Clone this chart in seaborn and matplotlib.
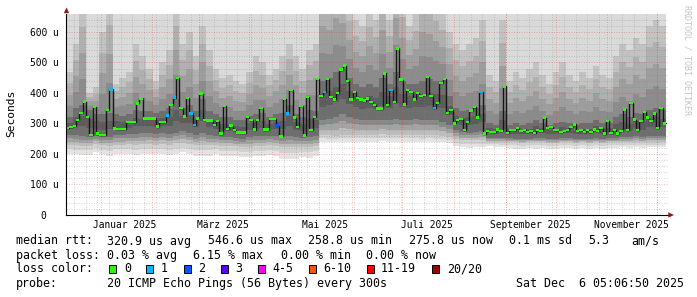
import numpy as np
import pandas as pd
import matplotlib
matplotlib.use("Agg")
import matplotlib.pyplot as plt
import seaborn as sns
from matplotlib.patches import Rectangle, Polygon

# ---------------- data ----------------
start = pd.Timestamp("2024-12-11 05:07")

# median rtt (microseconds), 2-day bins (180 bins)
median_us = [
    285, 288, 292, 312, 335, 372, 322, 262, 355, 267,
    262, 262, 344, 412, 284, 282, 282, 282, 305, 305,
    305, 366, 382, 317, 317, 317, 317, 290, 305, 305,
    326, 360, 385, 450, 350, 323, 383, 333, 295, 317,
    398, 312, 310, 310, 295, 308, 267, 357, 282, 293,
    278, 270, 270, 270, 322, 311, 280, 311, 351, 280,
    280, 315, 315, 293, 258, 381, 333, 409, 319, 289,
    357, 261, 387, 278, 322, 446, 390, 403, 446, 387,
    379, 400, 477, 490, 440, 379, 403, 384, 379, 375,
    382, 371, 360, 349, 349, 464, 360, 409, 371, 546,
    444, 363, 409, 404, 379, 400, 390, 393, 453, 390,
    350, 368, 433, 445, 335, 345, 300, 311, 315, 278,
    305, 342, 355, 320, 404, 267, 276, 273, 273, 280,
    276, 422, 269, 278, 279, 286, 275, 278, 272, 275,
    269, 278, 275, 319, 286, 289, 278, 278, 272, 275,
    278, 289, 297, 275, 278, 272, 278, 272, 280, 275,
    286, 267, 308, 269, 278, 267, 275, 346, 278, 368,
    313, 278, 308, 337, 319, 308, 333, 286, 351, 300,
]
loss1_bins = [13, 30, 32, 37, 38, 66, 77, 97, 110, 124]
loss2_bins = [63]

# smoke envelope (microseconds), 4-day bins (90 bins)
smoke_min = [
    200, 200, 198, 198, 205, 200, 195, 200, 200, 200,
    198, 200, 200, 200, 200, 198, 200, 205, 200, 195,
    195, 195, 200, 195, 195, 192, 190, 190, 195, 195,
    198, 195, 185, 182, 185, 190, 188, 195,
    240, 238, 238, 240, 240, 240, 240, 240, 240, 242,
    240, 240, 240, 240, 240, 238, 240, 238, 238, 236,
    225, 222, 220, 222, 222,
    225, 224, 222, 220, 218, 218, 220, 218, 220, 218,
    218, 220, 220, 218, 220, 218, 220, 218, 220, 220,
    222, 220, 222, 220, 222, 222, 222,
]
smoke_lo = [
    230, 228, 225, 226, 232, 228, 225, 230, 230, 232,
    230, 232, 232, 230, 232, 230, 235, 235, 232, 228,
    230, 228, 230, 226, 225, 225, 222, 224, 226, 226,
    228, 226, 222, 222, 222, 222, 222, 226,
    262, 262, 260, 262, 262, 262, 262, 262, 262, 265,
    262, 262, 262, 262, 262, 262, 262, 262, 260, 256,
    250, 245, 245, 245, 245,
    240, 240, 240, 238, 238, 236, 238, 238, 238, 236,
    236, 238, 238, 236, 238, 236, 238, 236, 238, 238,
    238, 238, 240, 238, 240, 240, 240,
]
core_lo = [
    262, 262, 258, 255, 260, 255, 255, 262, 262, 265,
    265, 268, 270, 265, 270, 265, 270, 275, 270, 262,
    270, 262, 260, 255, 255, 252, 250, 255, 258, 258,
    258, 258, 255, 258, 255, 252, 255, 258,
    310, 315, 320, 330, 320, 315, 312, 312, 310, 312,
    310, 315, 312, 312, 315, 312, 312, 312, 305, 295,
    278, 272, 270, 272, 275,
    252, 252, 252, 252, 250, 250, 250, 252, 252, 250,
    250, 252, 252, 250, 250, 250, 252, 250, 252, 252,
    255, 255, 258, 255, 258, 260, 258,
]
core_hi = [
    320, 350, 360, 345, 330, 330, 335, 330, 325, 330,
    345, 340, 340, 335, 340, 350, 380, 350, 360, 340,
    380, 340, 330, 320, 320, 310, 310, 325, 330, 335,
    320, 330, 335, 360, 330, 320, 345, 340,
    440, 450, 470, 480, 450, 430, 420, 430, 420, 450,
    430, 470, 440, 430, 430, 440, 445, 440, 440, 390,
    350, 340, 345, 350, 360,
    300, 295, 340, 295, 300, 295, 300, 310, 300, 295,
    300, 305, 300, 295, 300, 300, 310, 300, 300, 320,
    330, 320, 335, 330, 345, 350, 345,
]
smoke_hi = [
    470, 560, 700, 400, 420, 600, 720, 430, 450, 470,
    560, 520, 480, 440, 500, 540, 700, 560, 600, 520,
    620, 540, 480, 450, 460, 440, 430, 470, 520, 500,
    460, 480, 520, 560, 520, 480, 540, 560,
    800, 760, 820, 780, 700, 640, 620, 680, 640, 760,
    640, 820, 720, 620, 660, 760, 740, 700, 660, 600,
    560, 540, 560, 580, 640,
    460, 440, 640, 440, 470, 450, 480, 500, 460, 430,
    470, 500, 460, 440, 470, 450, 490, 460, 450, 520,
    560, 540, 580, 560, 620, 640, 620,
]

month_label_dates = ["2025-01-15 12:00", "2025-03-15 12:00", "2025-05-15 12:00",
                     "2025-07-15 12:00", "2025-09-15 12:00", "2025-11-15 12:00"]
month_labels = ["Januar 2025", "März 2025", "Mai 2025", "Juli 2025",
                "September 2025", "November 2025"]
ytick_vals = [0, 100, 200, 300, 400, 500, 600]
ytick_labels = ["0  ", "100 u", "200 u", "300 u", "400 u", "500 u", "600 u"]

loss_colors = ["#26ff00", "#00b8ff", "#0059ff", "#5e00ff", "#ff00ff",
               "#ff5500", "#ff0000", "#a10000"]
loss_names = ["0", "1", "2", "3", "4-5", "6-10", "11-19", "20/20"]

# ---------------- figure ----------------
sns.set_theme(style="white")
plt.rcParams["font.family"] = ["DejaVu Sans Mono", "DejaVu Sans"]

W, H = 697, 297
fig = plt.figure(figsize=(W / 100, H / 100), dpi=100)
fig.patch.set_facecolor("white")
ax = fig.add_axes([66 / W, (H - 215) / H, 602 / W, 201 / H])
ax.set_facecolor("white")

# ---- smoke (shaded like smokeping: darker towards the median) ----
k = len(smoke_min)
sm_edges = start + pd.to_timedelta(np.arange(k + 1) * 4, unit="D")
def ext(a):
    a = np.asarray(a, dtype=float)
    return np.append(a, a[-1])
smin, slo, clo, chi, shi = (ext(a) for a in (smoke_min, smoke_lo, core_lo, core_hi, smoke_hi))
ceiling = np.full(k + 1, 900.0)

def shade(lo, hi, levels, z):
    # split the band [lo, hi] into len(levels) equal slices, coloured bottom->top
    m = len(levels)
    for i, g in enumerate(levels):
        a = lo + (hi - lo) * i / m
        b = lo + (hi - lo) * (i + 1) / m
        ax.fill_between(sm_edges, a, b, step="post", color=str(g), lw=0, zorder=z)

shade(smin, ceiling, [0.855], 1.0)
shade(smin, slo, [0.89, 0.82], 1.1)
shade(slo, clo, [0.74, 0.64, 0.54], 1.1)
shade(clo, chi, [0.43, 0.36, 0.43], 1.1)
shade(chi, shi, [0.55, 0.62, 0.69, 0.76], 1.1)

# ---- grid (drawn over smoke) ----
minor_c = (0.5, 0.5, 0.5, 0.32)
major_c = (1.0, 0.15, 0.15, 0.32)
for v in range(20, 660, 20):
    if v % 100:
        ax.axhline(v, color=minor_c, lw=0.72, ls=(0, (1, 1.5)), zorder=2)
for v in range(100, 660, 100):
    ax.axhline(v, color=major_c, lw=0.72, ls=(0, (1, 1.5)), zorder=2.1)
for d in pd.date_range("2024-12-16", "2025-12-06", freq="7D"):
    ax.axvline(d, color=minor_c, lw=0.72, ls=(0, (1, 1.5)), zorder=2)
for d in pd.date_range("2025-01-01", "2025-12-01", freq="MS"):
    ax.axvline(d, color=major_c, lw=0.72, ls=(0, (1, 1.5)), zorder=2.1)

# ---- median step line + loss-coloured median marks ----
n = len(median_us)
med = np.asarray(median_us, dtype=float)
med_edges = start + pd.to_timedelta(np.arange(n + 1) * 2, unit="D")
sns.lineplot(x=med_edges, y=ext(med), drawstyle="steps-post", color="#161616",
             linewidth=1.0, estimator=None, sort=False, ax=ax, zorder=4)
loss = np.zeros(n, dtype=int)
loss[loss1_bins] = 1
loss[loss2_bins] = 2
cols = [loss_colors[c] for c in loss]
ax.bar(med_edges[:-1], 8, bottom=med - 4, width=2, align="edge", color=cols,
       linewidth=0, zorder=5)

# ---- axes ----
ax.set_xlim(start, start + pd.Timedelta(days=361.2))
ax.set_ylim(0, 659)
ax.set_yticks(ytick_vals)
ax.set_yticklabels(ytick_labels)
ax.set_xticks(pd.to_datetime(month_label_dates))
ax.set_xticklabels(month_labels)
ax.tick_params(axis="y", length=0, pad=5.5, labelsize=6.9, colors="black")
ax.tick_params(axis="x", length=0, pad=3.4, labelsize=6.9, colors="black")
ax.set_xlabel("")
ax.set_ylabel("")
for s in ["top", "right"]:
    ax.spines[s].set_visible(False)
for s in ["left", "bottom"]:
    ax.spines[s].set_color("black")
    ax.spines[s].set_linewidth(0.8)
    ax.spines[s].set_zorder(6)
ax.grid(False)

# arrows
def P(x, y):
    return [x / W, 1 - y / H]
fig.add_artist(Polygon([P(66.5, 7.5), P(63.8, 13.2), P(69.2, 13.2)], closed=True,
                       transform=fig.transFigure, color="#8b1c1c", lw=0))
fig.add_artist(Polygon([P(674, 215), P(668.3, 212.3), P(668.3, 217.7)], closed=True,
                       transform=fig.transFigure, color="#8b1c1c", lw=0))

# y label and watermark
fig.text(11 / W, 1 - 113.5 / H, "Seconds", rotation=90, ha="center", va="center",
         fontsize=8.1, color="black")
fig.text(686.5 / W, 1 - 60 / H, "RRDTOOL / TOBI OETIKER", rotation=270, ha="center",
         va="center", fontsize=6.0, color="#c4c4c4")

# legend text
fs = 8.4
def T(x, y, s, ha="left"):
    fig.text(x / W, 1 - y / H, s, ha=ha, va="center", fontsize=fs, color="black")

y1, y2, y3, y4 = 241, 255.3, 269, 283.3
T(15.6, y1, "median rtt:")
for x, s in [(107.2, "320.9 us avg"), (207.8, "546.6 us max"), (308.3, "258.8 us min"),
             (408.8, "275.8 us now"), (509.4, "0.1 ms sd"), (588, "5.3"), (631, "am/s")]:
    T(x, y1, s)
T(15.6, y2, "packet loss:")
for x, s in [(107.2, "0.03 % avg"), (193, "6.15 % max"), (280.6, "0.00 % min"),
             (366.4, "0.00 % now")]:
    T(x, y2, s)
T(15.6, y3, "loss color:")
box_x = [108.6, 146.1, 183.6, 220.7, 258.3, 309.2, 367.3, 432.1]
lab_x = [124, 161, 198, 235.5, 272.6, 323.5, 381, 447]
for bx, lx, c, name in zip(box_x, lab_x, loss_colors, loss_names):
    fig.add_artist(Rectangle((bx / W, 1 - 272.5 / H), 7 / W, 8 / H,
                             transform=fig.transFigure, facecolor=c,
                             edgecolor="black", lw=0.7))
    T(lx, y3, name)
T(15.6, y4, "probe:")
T(107.2, y4, "20 ICMP Echo Pings (56 Bytes) every 300s")
T(683.8, y4, "Sat Dec  6 05:06:50 2025", ha="right")

fig.savefig("out.png", dpi=100, facecolor="white")
